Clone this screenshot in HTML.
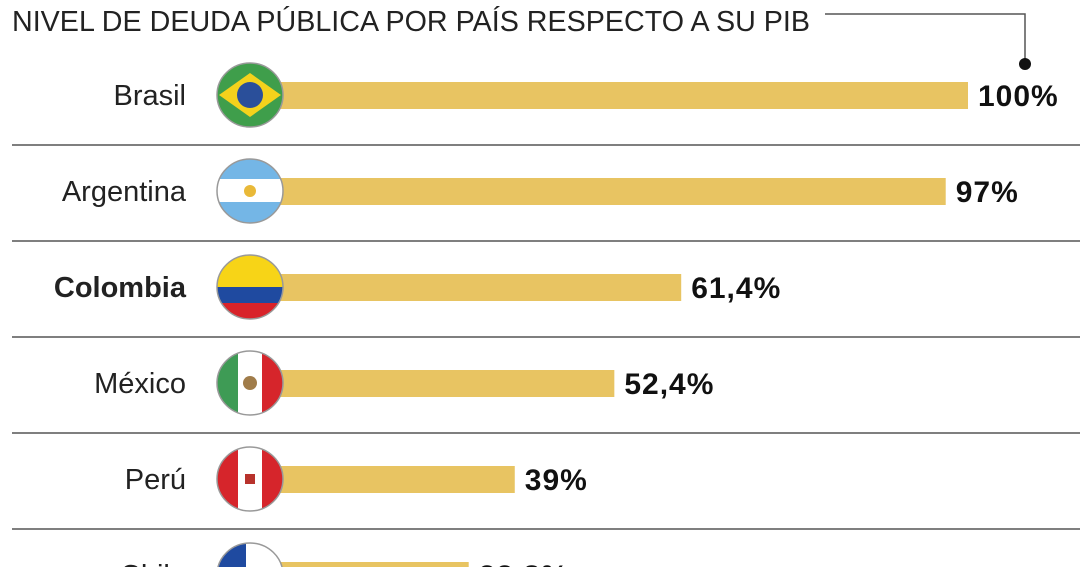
<!DOCTYPE html>
<html><head><meta charset="utf-8">
<style>
html,body{margin:0;padding:0;background:#fff;width:1080px;height:567px;overflow:hidden}
svg{display:block;overflow:hidden}
.lbl{font-family:"Liberation Sans",sans-serif;font-size:29px;fill:#222;text-anchor:end}
.val{font-family:"Liberation Sans",sans-serif;font-size:30px;font-weight:bold;fill:#111;letter-spacing:1px}
</style></head><body>
<svg id="chart" width="1080" height="567" viewBox="0 0 1080 567">
<text x="12" y="31" font-family="Liberation Sans, sans-serif" font-size="29" fill="#222" textLength="798" lengthAdjust="spacingAndGlyphs">NIVEL DE DEUDA PÚBLICA POR PAÍS RESPECTO A SU PIB</text>
<polyline points="825,14 1025,14 1025,62" fill="none" stroke="#555" stroke-width="1.5"/>
<circle cx="1025" cy="64" r="6" fill="#111"/>
<g id="rows"></g>
</svg>
<script>
const countries = ["Brasil","Argentina","Colombia","México","Perú","Chile"];
const values = [100,97,61.4,52.4,39,32.8];
const valueLabels = ["100%","97%","61,4%","52,4%","39%","32,8%"];
const highlight = ["Colombia"];

const NS="http://www.w3.org/2000/svg";
const x = v => 225 + v*7.43;
const rowY = i => 95 + i*96;
const g=document.getElementById('rows');
function mk(t,a){const e=document.createElementNS(NS,t);for(const k in a)e.setAttribute(k,a[k]);return e;}

function flag(i,name,cx,cy){
  const fg=mk('g',{});
  
  
  const id='clip'+i;
  const cp=mk('clipPath',{id:id});cp.appendChild(mk('ellipse',{cx:cx,cy:cy,rx:33,ry:32}));fg.appendChild(cp);
  const c=mk('g',{'clip-path':'url(#'+id+')'});
  const L=cx-34,T=cy-33,W=68,H=66;
  const R=(x0,y0,w,h,f)=>c.appendChild(mk('rect',{x:x0,y:y0,width:w,height:h,fill:f}));
  if(i===0){R(L,T,W,H,'#3f9e4b');c.appendChild(mk('polygon',{points:`${cx-31},${cy} ${cx},${cy-22} ${cx+31},${cy} ${cx},${cy+22}`,fill:'#f4d21c'}));c.appendChild(mk('circle',{cx:cx,cy:cy,r:13,fill:'#2a4f9a'}));}
  else if(i===1){R(L,T,W,H,'#fff');R(L,T,W,21,'#74b6e6');R(L,cy+11,W,23,'#74b6e6');c.appendChild(mk('circle',{cx:cx,cy:cy,r:6,fill:'#e9b938'}));}
  else if(i===2){R(L,T,W,H,'#f7d417');R(L,cy,W,17,'#1f4aa0');R(L,cy+16,W,20,'#d8232a');}
  else if(i===3){R(L,T,W,H,'#fff');R(L,T,22,H,'#3e9b55');R(cx+12,T,22,H,'#d6252b');c.appendChild(mk('circle',{cx:cx,cy:cy,r:7,fill:'#a07c4a'}));}
  else if(i===4){R(L,T,W,H,'#fff');R(L,T,22,H,'#d6252b');R(cx+12,T,22,H,'#d6252b');c.appendChild(mk('rect',{x:cx-5,y:cy-5,width:10,height:10,fill:'#b8322c'}));}
  else {R(L,T,W,H,'#fff');R(L,cy,W,34,'#d6252b');R(L,T,30,33,'#1f4aa0');}
  fg.appendChild(c);
  fg.appendChild(mk('ellipse',{cx:cx,cy:cy,rx:33,ry:32,fill:'none',stroke:'#999','stroke-width':1.5}));
  return fg;
}

countries.forEach((name,i)=>{
  const cy=rowY(i);
  const key=name.toLowerCase().normalize('NFD').replace(/[\u0300-\u036f]/g,'');
  const bar=mk('rect',{x:250,y:cy-13,width:x(values[i])-250,height:27,fill:'#e8c462'});
  
  
  g.appendChild(bar);
  g.appendChild(flag(i,key,250,cy));
  const lb=mk('text',{x:186,y:cy+10,class:'lbl'});
  
  
  if(highlight.includes(name)){lb.setAttribute('font-weight','bold');lb.setAttribute('fill','#111');}
  lb.textContent=name;g.appendChild(lb);
  const vl=mk('text',{x:x(values[i])+10,y:cy+11,class:'val'});
  
  
  vl.textContent=valueLabels[i];g.appendChild(vl);
  if(i<countries.length-1){
    const ln=mk('line',{x1:12,x2:1080,y1:cy+50,y2:cy+50,stroke:'#555','stroke-width':1.5});
    
    
    g.appendChild(ln);
  }
});
</script>
</body></html>
